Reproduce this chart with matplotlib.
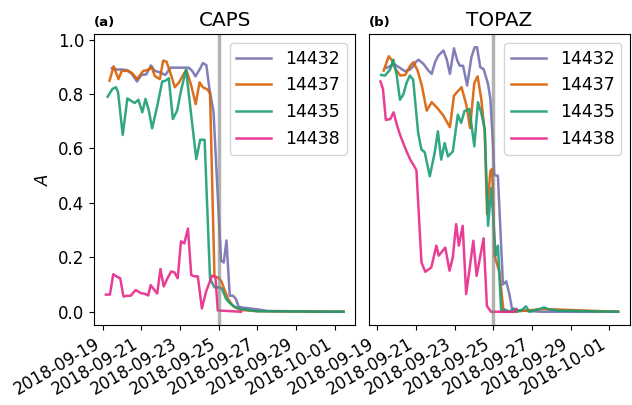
import numpy as np
import pandas as pd
import matplotlib
matplotlib.use("Agg")
import matplotlib.pyplot as plt
import matplotlib.dates as mdates

INICIO = pd.Timestamp("2018-09-19")
FECHA_CORTE = pd.Timestamp("2018-09-25")
TICKS = pd.date_range("2018-09-19", "2018-10-01", freq="2D")
ETIQUETAS = ["14432", "14437", "14435", "14438"]
COLORES = ["#7570b3", "#d95f02", "#1b9e77", "#e7298a"]

# ---- CAPS ----
caps_14432_dia = [0.48, 0.74, 1.0, 1.25, 1.5, 1.78, 2.0, 2.25, 2.5, 2.7, 2.95, 3.25, 3.5, 4.0, 4.45,
                  4.63, 4.8, 5.05, 5.18, 5.36, 5.52, 5.73, 6.12, 6.26, 6.4, 6.57, 6.74, 6.89, 7.02,
                  7.18, 8.1, 8.5, 12.45]
caps_14432_val = [0.895, 0.890, 0.890, 0.888, 0.875, 0.846, 0.870, 0.872, 0.905, 0.885, 0.880, 0.870,
                  0.897, 0.897, 0.897, 0.885, 0.865, 0.895, 0.914, 0.906, 0.819, 0.735, 0.188, 0.181,
                  0.262, 0.059, 0.059, 0.047, 0.020, 0.016, 0.008, 0.003, 0.0]

caps_14437_dia = [0.36, 0.57, 0.82, 0.99, 1.34, 1.55, 1.78, 2.10, 2.36, 2.53, 2.70, 2.96, 3.13, 3.30,
                  3.47, 3.73, 3.95, 4.19, 4.33, 4.58, 4.81, 5.01, 5.18, 5.44, 5.55, 5.78, 6.0, 6.15,
                  6.3, 6.5, 6.75, 7.1, 8.0, 12.45]
caps_14437_val = [0.849, 0.902, 0.855, 0.885, 0.885, 0.875, 0.855, 0.885, 0.889, 0.899, 0.866, 0.855,
                  0.923, 0.919, 0.885, 0.825, 0.843, 0.874, 0.888, 0.831, 0.763, 0.843, 0.825, 0.816,
                  0.800, 0.130, 0.125, 0.110, 0.080, 0.045, 0.020, 0.007, 0.002, 0.0]

caps_14435_dia = [0.26, 0.51, 0.69, 0.80, 1.04, 1.28, 1.45, 1.66, 1.85, 2.05, 2.22, 2.39, 2.56, 2.82,
                  3.08, 3.25, 3.42, 3.63, 3.85, 4.05, 4.31, 4.58, 4.84, 5.04, 5.27, 5.55, 5.78, 6.04,
                  6.17, 6.38, 6.63, 6.89, 7.15, 8.0, 12.45]
caps_14435_val = [0.790, 0.819, 0.825, 0.806, 0.650, 0.784, 0.776, 0.767, 0.779, 0.733, 0.782, 0.739,
                  0.674, 0.755, 0.846, 0.849, 0.858, 0.708, 0.739, 0.812, 0.890, 0.721, 0.561, 0.632,
                  0.632, 0.121, 0.090, 0.090, 0.084, 0.047, 0.028, 0.016, 0.010, 0.002, 0.0]

caps_14438_dia = [0.17, 0.38, 0.55, 0.72, 0.91, 1.08, 1.28, 1.45, 1.71, 1.97, 2.22, 2.36, 2.48, 2.82,
                  2.99, 3.16, 3.33, 3.54, 3.71, 3.88, 4.05, 4.22, 4.41, 4.58, 4.75, 4.92, 5.13, 5.35,
                  5.66, 5.83, 5.95, 7.15]
caps_14438_val = [0.063, 0.063, 0.138, 0.130, 0.123, 0.056, 0.059, 0.059, 0.080, 0.069, 0.065, 0.060,
                  0.098, 0.067, 0.157, 0.093, 0.120, 0.148, 0.145, 0.123, 0.259, 0.251, 0.306, 0.135,
                  0.130, 0.130, 0.012, 0.075, 0.133, 0.127, 0.005, 0.0]

# ---- TOPAZ ----
topaz_14432_dia = [0.49, 0.75, 0.92, 1.18, 1.43, 1.69, 1.86, 2.0, 2.14, 2.39, 2.65, 2.82, 2.99, 3.16,
                   3.42, 3.59, 3.76, 3.97, 4.14, 4.27, 4.44, 4.65, 4.87, 5.04, 5.16, 5.33, 5.50, 5.73,
                   5.85, 5.98, 6.05, 6.15, 6.24, 6.50, 6.67, 6.83, 6.97, 7.3, 8.5, 12.45]
topaz_14432_val = [0.896, 0.905, 0.908, 0.896, 0.884, 0.890, 0.902, 0.918, 0.926, 0.911, 0.886, 0.874,
                   0.917, 0.941, 0.960, 0.929, 0.874, 0.968, 0.923, 0.904, 0.904, 0.831, 0.935, 0.972,
                   0.972, 0.898, 0.892, 0.837, 0.782, 0.620, 0.506, 0.500, 0.500, 0.100, 0.112, 0.065,
                   0.010, 0.005, 0.0, 0.0]

topaz_14437_dia = [0.34, 0.60, 0.77, 0.94, 1.20, 1.45, 1.71, 1.88, 2.09, 2.31, 2.56, 2.82, 3.08, 3.42,
                   3.76, 3.97, 4.19, 4.36, 4.62, 4.80, 5.02, 5.19, 5.38, 5.56, 5.68, 5.85, 5.95, 6.07,
                   6.32, 6.53, 7.0, 8.6, 12.45]
topaz_14437_val = [0.886, 0.939, 0.923, 0.892, 0.868, 0.870, 0.904, 0.917, 0.886, 0.831, 0.739, 0.770,
                   0.751, 0.721, 0.678, 0.794, 0.812, 0.825, 0.757, 0.675, 0.841, 0.865, 0.782, 0.659,
                   0.359, 0.518, 0.525, 0.206, 0.145, 0.0, 0.0, 0.010, 0.0]

topaz_14435_dia = [0.21, 0.41, 0.67, 0.84, 1.01, 1.18, 1.35, 1.52, 1.69, 1.86, 2.12, 2.29, 2.46, 2.72,
                   2.97, 3.14, 3.31, 3.49, 3.66, 3.91, 4.17, 4.34, 4.51, 4.77, 5.02, 5.21, 5.38, 5.56,
                   5.73, 5.90, 6.12, 6.24, 6.41, 6.6, 6.85, 7.07, 7.2, 7.5, 7.69, 7.86, 8.38, 8.63,
                   8.89, 9.4, 12.45]
topaz_14435_val = [0.870, 0.868, 0.890, 0.926, 0.870, 0.779, 0.798, 0.841, 0.868, 0.853, 0.657, 0.596,
                   0.586, 0.498, 0.583, 0.663, 0.559, 0.620, 0.571, 0.589, 0.724, 0.694, 0.737, 0.745,
                   0.608, 0.770, 0.730, 0.672, 0.316, 0.455, 0.206, 0.243, 0.0, 0.008, 0.0, 0.012,
                   0.0, 0.008, 0.020, 0.0, 0.010, 0.016, 0.008, 0.004, 0.0]

topaz_14438_dia = [0.17, 0.30, 0.45, 0.68, 0.85, 1.03, 1.20, 1.37, 1.54, 1.74, 1.90, 2.03, 2.29, 2.49,
                   2.80, 3.06, 3.18, 3.52, 3.74, 3.91, 4.08, 4.22, 4.42, 4.60, 4.97, 5.14, 5.50, 5.67,
                   5.88, 7.07, 7.2]
topaz_14438_val = [0.846, 0.819, 0.705, 0.708, 0.733, 0.684, 0.647, 0.616, 0.586, 0.555, 0.537, 0.520,
                   0.181, 0.147, 0.163, 0.243, 0.206, 0.236, 0.151, 0.200, 0.322, 0.243, 0.316, 0.065,
                   0.261, 0.132, 0.270, 0.022, 0.0, 0.0, 0.010]

paneles = [
    ("CAPS", "(a)", [(caps_14432_dia, caps_14432_val), (caps_14437_dia, caps_14437_val),
                     (caps_14435_dia, caps_14435_val), (caps_14438_dia, caps_14438_val)]),
    ("TOPAZ", "(b)", [(topaz_14432_dia, topaz_14432_val), (topaz_14437_dia, topaz_14437_val),
                      (topaz_14435_dia, topaz_14435_val), (topaz_14438_dia, topaz_14438_val)]),
]


def a_fechas(dias):
    return INICIO + pd.to_timedelta(np.array(dias), unit="D")


fig, axes = plt.subplots(1, 2, figsize=(6.32, 4.05), dpi=100, sharey=True)
fig.subplots_adjust(left=94 / 632, right=630 / 632, bottom=1 - 325 / 405, top=1 - 34 / 405,
                    wspace=0.05)

for ax, (titulo, letra, series) in zip(axes, paneles):
    for (dias, vals), etiqueta, color in zip(series, ETIQUETAS, COLORES):
        ax.plot(a_fechas(dias), vals, color=color, lw=1.8, alpha=0.9, label=etiqueta)
    ax.axvline(FECHA_CORTE, color="grey", alpha=0.6, lw=2.5)
    ax.set_title(titulo, fontsize=14.4)
    ax.set_title(letra, loc="left", fontsize=9.5, fontweight="bold")
    ax.legend(loc="upper right", fontsize=12.5)
    ax.set_xticks(TICKS)
    ax.xaxis.set_major_formatter(mdates.DateFormatter("%Y-%m-%d"))
    ax.tick_params(labelsize=12)
    plt.setp(ax.get_xticklabels(), rotation=30, ha="right")

axes[0].set_ylabel("$A$", fontsize=12)
axes[0].set_yticks([0.0, 0.2, 0.4, 0.6, 0.8, 1.0])
axes[1].tick_params(axis="y", left=False, labelleft=False)

fig.savefig("out.png", dpi=100)
